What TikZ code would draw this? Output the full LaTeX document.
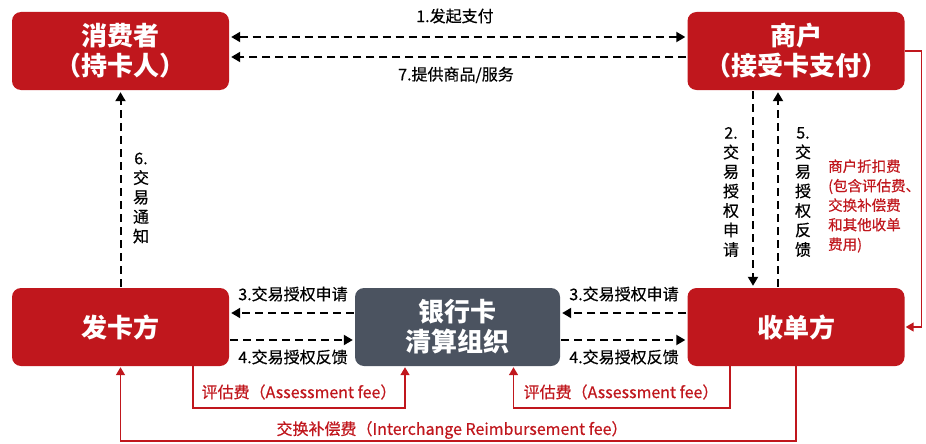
\documentclass[tikz,border=0pt]{standalone}
\usepackage{fontspec}
\setmainfont{Noto Sans CJK SC}
\newfontfamily\medfont[FakeBold=0.5]{Noto Sans CJK SC}
\usetikzlibrary{arrows.meta}
\definecolor{bred}{HTML}{C0171D}
\definecolor{bgray}{HTML}{4B5360}
\begin{document}
\begin{tikzpicture}[x=1pt,y=-1pt,
 box/.style={rounded corners=9pt, minimum width=217pt, minimum height=78pt, text=white, font=\fontsize{26}{30}\selectfont\bfseries, align=center, inner sep=0pt},
 redbox/.style={box, fill=bred},
 graybox/.style={box, fill=bgray, minimum width=205pt},
 tip/.style={-{Triangle[width=10pt,length=9pt]}},
 flow/.style={dash pattern=on 8pt off 5pt, line width=2pt, tip, shorten >=2pt, shorten <=1pt},
 fee/.style={draw=bred, line width=1.5pt, -{Triangle[width=9pt,length=8pt]}, shorten >=1pt},
 lbl/.style={font=\medfont\fontsize{16}{19.5}\selectfont, inner sep=0pt},
 rlbl/.style={lbl, text=bred},
]
\useasboundingbox (0,0) rectangle (926,444);

\node[redbox] (cons) at (120.5,51) {消费者\\（持卡人）};
\node[redbox] (merch) at (796,51) {商户\\（接受卡支付）};
\node[redbox] (iss) at (120.5,327) {发卡方};
\node[graybox] (clr) at (457.5,327) {银行卡\\清算组织};
\node[redbox] (acq) at (796,327) {收单方};

% top arrows
\draw[flow, {Triangle[width=10pt,length=9pt]}-{Triangle[width=10pt,length=9pt]}, shorten <=2pt] ([yshift=14pt]cons.east) -- ([yshift=14pt]merch.west);
\draw[flow] ([yshift=-6pt]merch.west) -- ([yshift=-6pt]cons.east);
\node[lbl] (l1) at (455,16) {1.发起支付};
\node[lbl] (l7) at (456,75) {7.提供商品/服务};

% vertical arrows
\draw[flow] ([xshift=-43pt]merch.south) -- ([xshift=-43pt]acq.north);
\draw[flow] ([xshift=-18pt]acq.north) -- ([xshift=-18pt]merch.south);
\draw[flow] (iss.north) -- (cons.south);
\node[lbl, align=center] (l2) at (731,192) {2.\\交\\易\\授\\权\\申\\请};
\node[lbl, align=center] (l5) at (803,192) {5.\\交\\易\\授\\权\\反\\馈};
\node[lbl, align=center] (l6) at (141,198) {6.\\交\\易\\通\\知};

% merchant discount fee
\draw[fee] (merch.east) -- ++(17,0) |- (acq.east);
\node[rlbl, font=\medfont\fontsize{14.5}{19.5}\selectfont, align=left, anchor=west] (rd) at (828,206) {商户折扣费\\(包含评估费、\\交换补偿费\\和其他收单\\费用)};

% bottom flow arrows
\draw[flow] ([yshift=14pt]clr.west) -- ([yshift=14pt]iss.east);
\draw[flow] ([yshift=-13pt]iss.east) -- ([yshift=-13pt]clr.west);
\draw[flow] ([yshift=14pt]acq.west) -- ([yshift=14pt]clr.east);
\draw[flow] ([yshift=-13pt]clr.east) -- ([yshift=-13pt]acq.west);
\node[lbl] (l3a) at (293,294) {3.交易授权申请};
\node[lbl] (l4a) at (293,357) {4.交易授权反馈};
\node[lbl] (l3b) at (624,294) {3.交易授权申请};
\node[lbl] (l4b) at (624,357) {4.交易授权反馈};

% assessment fees
\draw[fee] ([xshift=72.5pt]iss.south) -- ++(0,42) -| ([xshift=-52.5pt]clr.south);
\draw[fee] ([xshift=-66pt]acq.south) -- ++(0,42) -| ([xshift=56pt]clr.south);
\node[rlbl] (fa1) at (299,392) {评估费（Assessment fee）};
\node[rlbl] (fa2) at (621,392) {评估费（Assessment fee）};

% interchange
\draw[fee] (acq.south) -- ++(0,75) -| (iss.south);
\node[rlbl] (fi) at (452,430) {交换补偿费（Interchange Reimbursement fee）};
\end{tikzpicture}
\end{document}
